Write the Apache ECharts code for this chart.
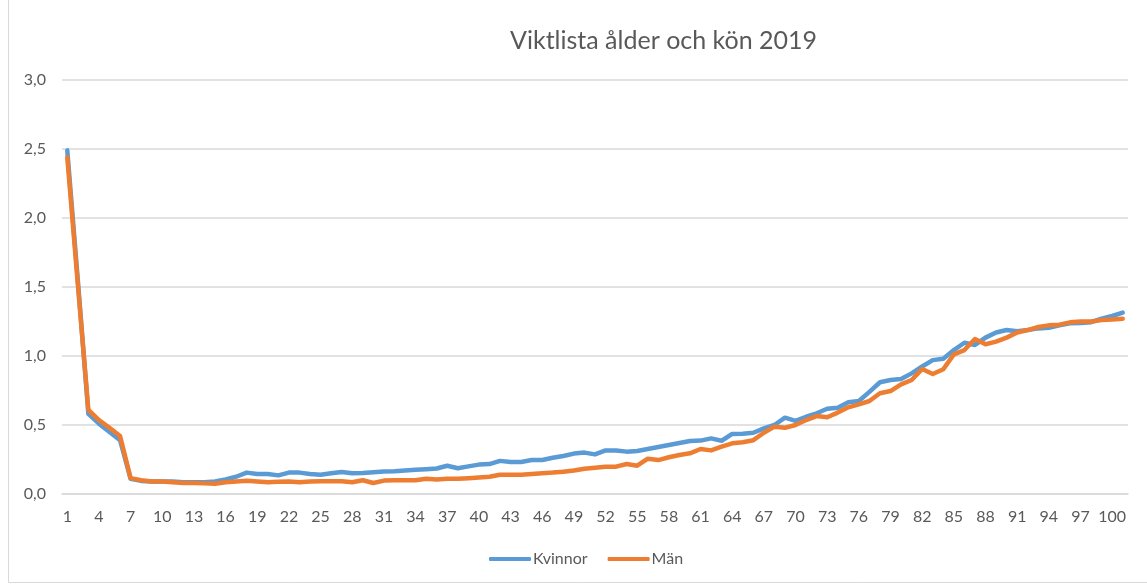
<!DOCTYPE html>
<html><head><meta charset="utf-8">
<script src="https://cdn.jsdelivr.net/npm/echarts@6/dist/echarts.min.js"></script>
<style>html,body{margin:0;padding:0;background:#fff}#c{width:1147px;height:585px}</style>
</head><body><div id="c"></div>
<script>
const titleText = 'Viktlista ålder och kön 2019';
const seriesNames = ['Kvinnor', 'Män'];
const ages = [];
for (let a = 1; a <= 101; a++) ages.push(String(a));
const yTicks = [0, 0.5, 1, 1.5, 2, 2.5, 3];

const kvinnor = [
 2.49,1.55,0.58,0.51,0.45,0.39,0.11,0.095,0.09,0.09,
 0.09,0.085,0.085,0.085,0.09,0.105,0.125,0.155,0.145,0.145,
 0.135,0.155,0.155,0.145,0.14,0.15,0.16,0.15,0.152,0.157,
 0.163,0.165,0.17,0.175,0.18,0.185,0.205,0.187,0.2,0.213,
 0.217,0.24,0.232,0.232,0.246,0.246,0.263,0.275,0.293,0.30,
 0.287,0.316,0.316,0.307,0.312,0.326,0.34,0.355,0.37,0.384,
 0.387,0.403,0.386,0.435,0.437,0.444,0.476,0.50,0.553,0.53,
 0.56,0.585,0.618,0.625,0.665,0.674,0.74,0.81,0.826,0.833,
 0.874,0.924,0.97,0.98,1.043,1.096,1.08,1.133,1.17,1.188,
 1.18,1.188,1.20,1.205,1.222,1.237,1.24,1.245,1.27,1.29,
 1.314
];
const man = [
 2.44,1.52,0.61,0.536,0.48,0.42,0.115,0.10,0.09,0.09,
 0.085,0.08,0.08,0.077,0.075,0.085,0.09,0.096,0.09,0.085,
 0.088,0.09,0.085,0.09,0.093,0.093,0.093,0.085,0.10,0.08,
 0.097,0.10,0.10,0.10,0.11,0.105,0.11,0.11,0.115,0.12,
 0.125,0.14,0.14,0.14,0.145,0.15,0.155,0.162,0.17,0.183,
 0.19,0.198,0.198,0.217,0.205,0.256,0.246,0.266,0.283,0.295,
 0.326,0.316,0.343,0.367,0.375,0.39,0.444,0.488,0.48,0.50,
 0.536,0.565,0.556,0.59,0.628,0.65,0.674,0.73,0.746,0.795,
 0.826,0.906,0.87,0.904,1.012,1.043,1.123,1.085,1.104,1.133,
 1.17,1.188,1.21,1.222,1.227,1.244,1.25,1.25,1.26,1.265,
 1.27
];

const txt = '#595959';
const font = 'Lato, "Open Sans", sans-serif';
const chart = echarts.init(document.getElementById('c'));
chart.setOption({
  animation: false,
  backgroundColor: '#fff',
  title: { text: titleText, left: 505, top: 23,
    textStyle: { color: txt, fontSize: 25, fontWeight: 'normal', fontFamily: font } },
  graphic: [{ type: 'rect', shape: { x: 8.5, y: -2, width: 1150, height: 584.5 },
    style: { fill: 'none', stroke: '#d9d9d9', lineWidth: 1 }, silent: true }],
  legend: { bottom: 13, left: 484, itemWidth: 42, itemHeight: 4, itemGap: 20,
    icon: 'roundRect',
    textStyle: { color: txt, fontSize: 16, fontFamily: font, padding: [0,0,0,-3] },
    data: seriesNames },
  grid: { left: 62, right: 19, top: 80, bottom: 91, containLabel: false },
  xAxis: { type: 'category', data: ages, boundaryGap: true,
    axisLine: { show: true, lineStyle: { color: '#d9d9d9', width: 1.5 } },
    axisTick: { show: false },
    axisLabel: { interval: 2, color: txt, fontSize: 16, fontFamily: font, margin: 15 } },
  yAxis: { type: 'value', min: 0, max: 3, interval: 0.5,
    axisLine: { show: false }, axisTick: { show: false },
    splitLine: { lineStyle: { color: '#d9d9d9', width: 1.5 } },
    axisLabel: { color: txt, fontSize: 16, fontFamily: font, margin: 16,
      formatter: v => v.toFixed(1).replace('.', ',') } },
  series: [
    { name: seriesNames[0], type: 'line', data: kvinnor, showSymbol: false, symbol: 'none',
      lineStyle: { color: '#5B9BD5', width: 4.5, cap: 'round', join: 'round' }, itemStyle: { color: '#5B9BD5' } },
    { name: seriesNames[1], type: 'line', data: man, showSymbol: false, symbol: 'none',
      lineStyle: { color: '#ED7D31', width: 4.5, cap: 'round', join: 'round' }, itemStyle: { color: '#ED7D31' } }
  ]
});
</script></body></html>
